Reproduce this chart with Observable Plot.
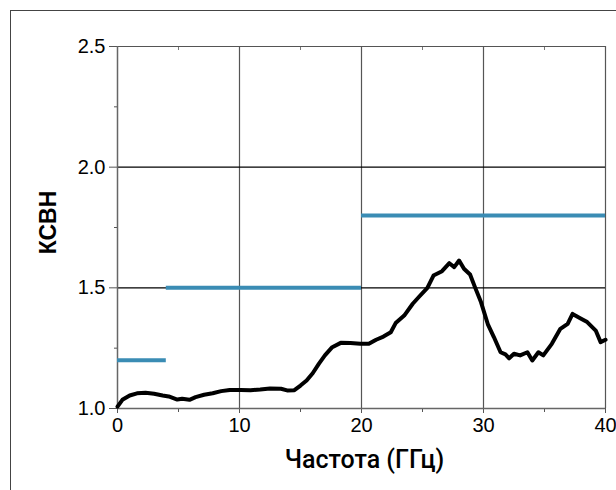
<!DOCTYPE html>
<html><head><meta charset="utf-8">
<script src="https://cdn.jsdelivr.net/npm/d3@7"></script>
<script src="https://cdn.jsdelivr.net/npm/@observablehq/plot@0.6"></script>
<style>
body{margin:0;background:#fff;}
#wrap{position:relative;width:616px;height:490px;overflow:hidden;}
#frame{position:absolute;left:10px;top:10px;width:700px;height:600px;border-left:1.5px solid #444;border-top:1.5px solid #444;}
#chart{position:absolute;left:0;top:0;}
</style></head><body>
<div id="wrap"><div id="frame"></div><div id="chart"></div></div>
<script>
// Frequency (GHz) and measured VSWR
const freq = [0,0.4,1.0,1.6,2.3,3.0,3.7,4.2,4.9,5.3,5.9,6.4,7.1,7.8,8.5,9.2,10.1,10.9,11.7,12.5,13.4,13.9,14.5,15.0,15.5,16.0,16.5,17.0,17.6,18.3,19.1,19.9,20.6,21.2,21.8,22.4,22.8,23.5,24.2,24.7,25.4,25.9,26.6,27.2,27.6,28.0,28.4,28.9,29.3,29.8,30.35,30.85,31.4,31.8,32.1,32.5,33.0,33.6,34.0,34.5,34.9,35.6,36.3,36.9,37.3,38.0,38.5,39.2,39.6,40.0];
const vswr = [1.008,1.036,1.054,1.063,1.065,1.061,1.054,1.05,1.037,1.04,1.036,1.047,1.057,1.063,1.072,1.077,1.077,1.076,1.079,1.083,1.082,1.075,1.076,1.095,1.116,1.146,1.185,1.22,1.254,1.272,1.271,1.268,1.268,1.285,1.298,1.316,1.354,1.385,1.434,1.462,1.5,1.551,1.569,1.602,1.586,1.613,1.579,1.555,1.503,1.44,1.35,1.296,1.233,1.224,1.208,1.227,1.22,1.233,1.199,1.233,1.22,1.268,1.33,1.351,1.392,1.372,1.358,1.323,1.275,1.285];
// Specification limits (step)
const specStart = [0, 4, 20];
const specEnd = [4, 20, 40];
const specLimit = [1.2, 1.5, 1.8];
// Ticks
const xTicks = [0, 10, 20, 30, 40];
const xMinor = [5, 15, 25, 35];
const yTicks = [1.0, 1.5, 2.0, 2.5];
const yMinor = [1.25, 1.75, 2.25];
const xLabel = "Частота (ГГц)";
const yLabel = "КСВН";

const data = freq.map((f, i) => ({f, v: vswr[i]}));
const spec = specLimit.map((y, i) => ({y, x1: specStart[i], x2: specEnd[i]}));

const chart = Plot.plot({
  width: 616, height: 490,
  marginLeft: 117, marginRight: 11, marginTop: 46, marginBottom: 82,
  style: {fontFamily: "'Liberation Sans', Arial, sans-serif", fontSize: "20px", color: "#000", background: "transparent", overflow: "visible"},
  x: {domain: [0, 40]},
  y: {domain: [1, 2.5]},
  marks: [
    Plot.ruleX(xTicks.filter(d => d > 0), {stroke: "#555", strokeWidth: 1.2}),
    Plot.ruleY([1.5, 2.0], {stroke: "#000", strokeWidth: 1.2}),
    Plot.ruleY([2.5], {stroke: "#555", strokeWidth: 1.2}),
    Plot.axisY({ticks: yTicks, tickSize: 8, tickPadding: 4, tickFormat: d => d.toFixed(1), label: null, stroke: "#555"}),
    Plot.axisY({ticks: yMinor, tickSize: 3, tickFormat: () => "", label: null, stroke: "#555"}),
    Plot.axisX({ticks: xTicks, tickSize: 5, tickPadding: 4, label: null, stroke: "#555"}),
    Plot.axisX({ticks: xMinor, tickSize: 4, tickFormat: () => "", label: null, stroke: "#555"}),
    Plot.axisX({anchor: "top", ticks: xMinor, tickSize: -3, tickFormat: () => "", label: null, stroke: "#777"}),
    Plot.ruleY([1], {stroke: "#666", strokeWidth: 1.5}),
    Plot.ruleX([0], {stroke: "#666", strokeWidth: 1.5}),
    Plot.ruleY(spec, {y: "y", x1: "x1", x2: "x2", stroke: "#3a8cb4", strokeWidth: 4}),
    Plot.line(data, {x: "f", y: "v", stroke: "#000", strokeWidth: 4, strokeLinejoin: "round", strokeLinecap: "round"}),
    Plot.text([xLabel], {text: d => d, frameAnchor: "bottom", dy: 59, dx: 3, fontSize: 25, fontWeight: 500, fontFamily: "Roboto"}),
    Plot.text([yLabel], {text: d => d, frameAnchor: "left", textAnchor: "middle", rotate: -90, dx: -69, dy: -5, fontSize: 23, fontWeight: 700, fontFamily: "'Liberation Sans', Arial, sans-serif"})
  ]
});
document.getElementById("chart").appendChild(chart);
</script>
</body></html>
